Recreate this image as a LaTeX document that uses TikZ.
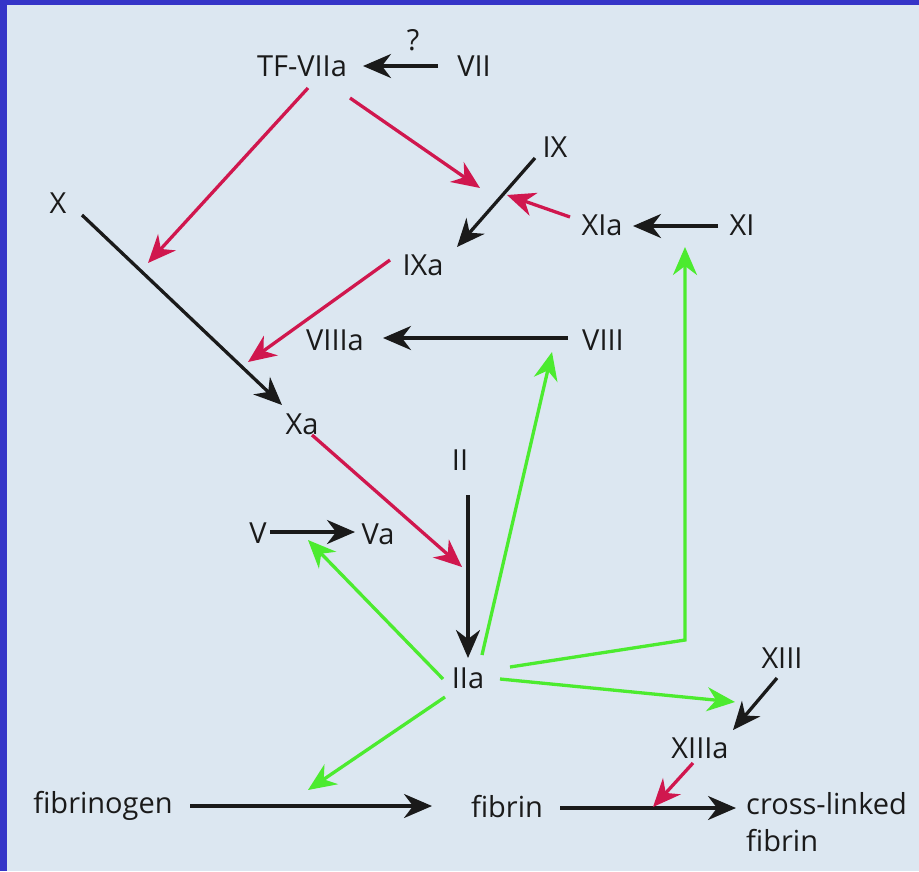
\documentclass[tikz,border=0pt]{standalone}
\usepackage{fontspec}
\setmainfont{Open Sans}
\usetikzlibrary{arrows.meta}
\definecolor{bg}{HTML}{DCE7F1}
\definecolor{frame}{HTML}{3535C8}
\definecolor{crim}{HTML}{D0174E}
\definecolor{lime}{HTML}{4CEB2F}
\definecolor{ink}{HTML}{1A1A1A}
\tikzset{
  lbl/.style={inner sep=0pt, text=ink, font=\fontsize{29}{37}\selectfont},
  conn/.style={line width=3.3pt, -{Stealth[length=28pt,width=24pt,inset=9pt]}},
  blk/.style={conn, draw=ink},
  redc/.style={conn, draw=crim},
  grn/.style={conn, draw=lime},
}
\begin{document}
\begin{tikzpicture}[x=1pt,y=-1pt]
\fill[frame] (0,0) rectangle (919,871);
\fill[bg] (7,5) rectangle (919,871);
\useasboundingbox (0,0) rectangle (919,871);

% nodes
\node[lbl] (Q) at (413,40) {?};
\node[lbl] (TF) at (302,66) {TF-VIIa};
\node[lbl] (VII) at (474,66) {VII};
\node[lbl] (X) at (58,203) {X};
\node[lbl] (IX) at (555,147) {IX};
\node[lbl] (XIa) at (602,225) {XIa};
\node[lbl] (XI) at (742,225) {XI};
\node[lbl] (IXa) at (423,265) {IXa};
\node[lbl] (VIIIa) at (335,340) {VIIIa};
\node[lbl] (VIII) at (603,340) {VIII};
\node[lbl] (Xa) at (302,424) {Xa};
\node[lbl] (II) at (460,460) {II};
\node[lbl] (V) at (258,533) {V};
\node[lbl] (Va) at (378,534) {Va};
\node[lbl] (IIa) at (468,678) {IIa};
\node[lbl] (XIII) at (782,658) {XIII};
\node[lbl] (XIIIa) at (700,748) {XIIIa};
\node[lbl] (fgen) at (103,806) {fibrinogen};
\node[lbl] (fib) at (507,807) {fibrin};
\node[lbl, align=left, anchor=north west] (cross) at (746,792) {cross-linked\\fibrin};

% free ends
\coordinate (c1) at (148,263);
\coordinate (c2) at (480,188);
\coordinate (c3) at (507,195);
\coordinate (c4) at (248,362);
\coordinate (c5) at (462,567);
\coordinate (c6) at (308,540);
\coordinate (c7) at (552,352);
\coordinate (c8) at (685,640);
\coordinate (c9) at (685,247);
\coordinate (c10) at (735,702);
\coordinate (c11) at (308,790);
\coordinate (c12) at (653,807);

% black
\draw[blk] ([shift={(-36,0)}]VII.center) -- ([shift={(61,0)}]TF.center);
\draw[blk] ([shift={(24,12)}]X.center) -- ([shift={(-20,-19)}]Xa.center);
\draw[blk] ([shift={(-20,11)}]IX.center) -- ([shift={(34,-18)}]IXa.center);
\draw[blk] ([shift={(-24,1)}]XI.center) -- ([shift={(31,1)}]XIa.center);
\draw[blk] ([shift={(-35,-2)}]VIII.center) -- ([shift={(48,-2)}]VIIIa.center);
\draw[blk] ([shift={(8,35)}]II.center) -- ([shift={(0,-20)}]IIa.center);
\draw[blk] ([shift={(12,-1)}]V.center) -- ([shift={(-23,-2)}]Va.center);
\draw[blk] ([shift={(-5,20)}]XIII.center) -- ([shift={(33,-18)}]XIIIa.center);
\draw[blk] ([shift={(87,0)}]fgen.center) -- ([shift={(-75,-1)}]fib.center);
\draw[blk] ([shift={(53,1)}]fib.center) -- ([shift={(-10,16)}]cross.north west);

% red
\draw[redc] ([shift={(6,22)}]TF.center) -- (c1);
\draw[redc] ([shift={(48,32)}]TF.center) -- (c2);
\draw[redc] ([shift={(-32,-8)}]XIa.center) -- (c3);
\draw[redc] ([shift={(-33,-5)}]IXa.center) -- (c4);
\draw[redc] ([shift={(10,11)}]Xa.center) -- (c5);
\draw[redc] ([shift={(-7,15)}]XIIIa.center) -- (c12);

% green
\draw[grn] ([shift={(-25,1)}]IIa.center) -- (c6);
\draw[grn] ([shift={(14,-23)}]IIa.center) -- (c7);
\draw[grn] ([shift={(42,-11)}]IIa.center) -- (c8) -- (c9);
\draw[grn] ([shift={(32,1)}]IIa.center) -- (c10);
\draw[grn] ([shift={(-23,19)}]IIa.center) -- (c11);
\end{tikzpicture}
\end{document}
